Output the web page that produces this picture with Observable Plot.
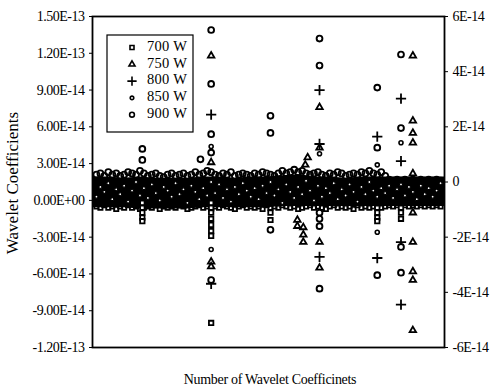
<!DOCTYPE html>
<html><head><meta charset="utf-8">
<script src="https://cdn.jsdelivr.net/npm/d3@7"></script>
<script src="https://cdn.jsdelivr.net/npm/@observablehq/plot@0.6"></script>
<style>
body{margin:0;background:#fff;}
#chart svg{display:block;}
#chart svg g[aria-label^="y-axis tick label"] text{letter-spacing:-0.5px;}
</style></head><body><div id="chart"></div>
<script>
const U = 1e-15; // values below are in units of 1E-15

// Axis ticks
const leftTickValues = [1.5e-13, 1.2e-13, 9e-14, 6e-14, 3e-14, 0, -3e-14, -6e-14, -9e-14, -1.2e-13];
const leftTickLabels = ["1.50E-13","1.20E-13","9.00E-14","6.00E-14","3.00E-14","0.00E+00","-3.00E-14","-6.00E-14","-9.00E-14","-1.20E-13"];
const rightTickValues = [6e-14, 4e-14, 2e-14, 0, -2e-14, -4e-14, -6e-14];
const rightTickLabels = ["6E-14","4E-14","2E-14","0","-2E-14","-4E-14","-6E-14"];

const seriesNames = ["700 W","750 W","800 W","850 W","900 W"];

// Dense band envelope (coefficient index, low, high)
const bandIdx = [0,4,8,12,16,20,24,28,32,36,40,44,48,52,56,60,64,68,72,76,80,84,89];
const bandHi  = [19,19,18,19,18,18,18,19,19,18,19,19,20,21,19,19,18,19,19,19,19,19,19];
const bandLo  = [-6,-6,-6,-7,-7,-7,-7,-6,-6,-6,-6,-6,-5,-5,-5,-5,-5,-5,-5,-5,-5,-5,-5];

// Band points (index 1..88)
const band900 = [21,22,20,23,21,22,20,21,23,22, 21,24,22,20,21,22,20,19,21,22,
  20,21,22,20,21,23,21,22,24,23, 21,20,22,21,23,20,21,22,21,20,
  22,21,23,22,21,20,22,24,22,23, 25,23,24,22,21,22,23,21,20,22,
  21,23,22,20,21,22,21,23,22,24, 22,21,23,20,17,16,17,16,17,16,
  17,16,17,16,17,16,17,16];
const band700 = [-5,-6,-4,-6,-5,-7,-5,-6,-4,-6, -5,-7,-6,-5,-6,-4,-7,-5,-6,-5,
  -6,-4,-5,-7,-6,-5,-4,-6,-5,-7, -5,-6,-4,-5,-6,-7,-5,-4,-6,-5,
  -6,-5,-7,-4,-6,-5,-6,-4,-5,-6, -5,-7,-6,-5,-4,-6,-5,-6,-7,-5,
  -4,-6,-5,-6,-5,-7,-4,-6,-5,-6, -5,-4,-6,-5,-4,-5,-4,-5,-4,-5,
  -4,-5,-4,-5,-4,-5,-4,-5];
const band850 = [3,11,7,14,1,9,5,12,-1,8, 15,4,10,2,13,6,0,11,8,3,
  14,5,9,-2,12,7,1,10,4,15, 6,13,2,9,-1,11,5,14,8,3,
  10,1,12,6,15,4,9,-2,13,7, 2,11,5,16,8,0,12,3,10,6,
  14,1,9,4,13,7,-1,11,5,15, 8,3,10,6,12,2,9,13,4,11,
  7,1,12,5,10,3,8,14];

// Outlying coefficients
const out700X = [12.6,12.6,12.6,12.6,12.6, 30,30,30,30,30,30,30,30, 45,45, 72,72,72,72, 78,78,78];
const out700V = [-2,-6,-10,-14,-17, -2,-6,-10,-15,-20,-25,-29,-100, -10,-16, -6,-10,-14,-17, -6,-10,-15];
const out750X = [30,30,30,30, 51.8,51.8, 53.3,53.3,53.3, 54.4,53.8, 57.4,57.4,57.4,57.4, 81,81,81,81,81, 81,81,81,81,81];
const out750V = [118,31,-50,-54, -16,-21, -22,-28,-34, 35,29, 76,43,-34,-55, 118,65,55,47,22, -10,-34,-58,-65,-106];
const out800X = [30,30, 57.4,57.4,57.4, 72,72, 78,78,78,78];
const out800V = [70,-68, 90,46,-46, 52,-47, 83,32,-34,-85];
const out850X = [30,30, 57.4, 72,72, 78];
const out850V = [44,-40, 38, 29,-26, 47];
const out900X = [12.6,12.6, 27.3, 30,30,30,30,30, 45,45,45, 57.4,57.4,57.4,57.4,57.4,57.4, 72,72,72, 78,78,78,78];
const out900V = [42,33, 33.5, 139,95,54,39,-65, 69,55,-24, 132,110,-10,-15,-21,-72, 92,43,-61, 119,59,-38,-59];

// ---- build tables ----
const envelope = bandIdx.map((x,i)=>({x, lo: bandLo[i]*U, hi: bandHi[i]*U}));
const toPts = (vals) => vals.map((v,i)=>({x: i+1, y: v*U}));
const toOut = (xs, vs) => xs.map((x,i)=>({x, y: vs[i]*U}));
const rightPos = rightTickValues.map(r => 2.25*r + 1.5e-14); // right axis mapped onto left scale

const style = {stroke:"black", fill:"white"};
const chart = Plot.plot({
  width: 497, height: 387,
  marginLeft: 92, marginRight: 53, marginTop: 16, marginBottom: 40,
  x: {domain: [0, 89], axis: null},
  y: {domain: [-1.2e-13, 1.5e-13], axis: null},
  style: {fontFamily: "Liberation Serif", fontSize: "14px", color: "black", background: "white"},
  marks: [
    Plot.areaY(envelope, {x: "x", y1: "lo", y2: "hi", fill: "black"}),
    Plot.dot(toPts(band900), {x:"x", y:"y", symbol:"circle", r:3.0, strokeWidth:1.8, stroke:"black", fill:"none"}),
    Plot.dot(toPts(band700), {x:"x", y:"y", symbol:"square", r:2.4, strokeWidth:1.8, stroke:"black", fill:"none"}),
    Plot.dot(toPts(band850), {x:"x", y:"y", symbol:"circle", r:1.5, strokeWidth:1.2, ...style}),
    Plot.dot(toOut(out700X, out700V), {x:"x", y:"y", symbol:"square", r:2.5, strokeWidth:1.8, ...style}),
    Plot.dot(toOut(out750X, out750V), {x:"x", y:"y", symbol:"triangle", r:2.4, strokeWidth:1.8, ...style}),
    Plot.dot(toOut(out800X, out800V), {x:"x", y:"y", symbol:"plus", r:3.4, strokeWidth:1.8, stroke:"black"}),
    Plot.dot(toOut(out850X, out850V), {x:"x", y:"y", symbol:"circle", r:2.0, strokeWidth:1.6, ...style}),
    Plot.dot(toOut(out900X, out900V), {x:"x", y:"y", symbol:"circle", r:2.9, strokeWidth:1.9, ...style}),
    Plot.frame({stroke: "black", strokeWidth: 1.8}),
    Plot.axisY(leftTickValues, {anchor: "left", tickSize: 3, tickPadding: 5, label: null,
      tickFormat: d => leftTickLabels[leftTickValues.indexOf(d)]}),
    Plot.axisY(rightPos, {anchor: "right", tickSize: 3, tickPadding: 5, label: null,
      tickFormat: d => rightTickLabels[rightPos.indexOf(d)]})
  ]
});
document.getElementById("chart").appendChild(chart);

// ---- titles and legend ----
const svg = d3.select(chart);
svg.append("text")
  .attr("transform", "translate(14,183) rotate(-90)")
  .attr("text-anchor", "middle").attr("dominant-baseline", "middle")
  .attr("font-family", "Liberation Serif").attr("font-size", 17).attr("fill", "black")
  .text("Wavelet Coefficients");
svg.append("text")
  .attr("x", 270).attr("y", 381)
  .attr("text-anchor", "middle").attr("dominant-baseline", "middle")
  .attr("font-family", "Liberation Serif").attr("font-size", 14).attr("letter-spacing", "-0.3px").attr("fill", "black")
  .text("Number of Wavelet Coefficinets");

const lg = svg.append("g");
lg.append("rect").attr("x", 107).attr("y", 35).attr("width", 86).attr("height", 97)
  .attr("fill", "white").attr("stroke", "black").attr("stroke-width", 1.2);
const symTypes = [d3.symbolSquare, d3.symbolTriangle, d3.symbolPlus || d3.symbolCross, d3.symbolCircle, d3.symbolCircle];
const symSizes = [16, 16, 30, 10, 18];
seriesNames.forEach((name, i) => {
  const cy = 47.5 + i * 16.8;
  const isPlus = i === 2;
  lg.append("path")
    .attr("transform", `translate(132,${cy})`)
    .attr("d", d3.symbol().type(symTypes[i]).size(symSizes[i])())
    .attr("fill", isPlus ? "none" : "white").attr("stroke", "black").attr("stroke-width", 1.6);
  lg.append("text").attr("x", 147).attr("y", cy).attr("dominant-baseline", "middle")
    .attr("text-anchor", "start")
    .attr("font-family", "Liberation Serif").attr("font-size", 14.5).attr("letter-spacing", "0.3px").attr("fill", "black")
    .text(name);
});
</script></body></html>
